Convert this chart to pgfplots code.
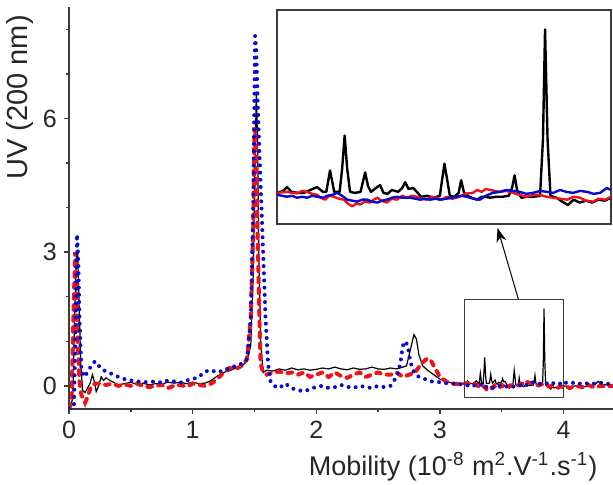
\documentclass[border=0pt]{standalone}
\usepackage{pgfplots}
\pgfplotsset{compat=1.18}
\usepackage{pgfplotstable}
\usetikzlibrary{arrows.meta}
\usepackage{fontspec}
\setmainfont{Liberation Sans}
\definecolor{cred}{RGB}{235,20,25}
\definecolor{cblue}{RGB}{10,10,205}
\definecolor{axgray}{RGB}{60,60,60}

\pgfplotstableread{
x y
0.00 -0.5
0.03 -0.3
0.045 1.5
0.06 2.9
0.07 3.0
0.08 2.0
0.095 0.5
0.11 -0.1
0.13 -0.15
0.15 -0.05
0.17 0.05
0.19 0.25
0.205 0.1
0.22 -0.13
0.24 0.0
0.26 0.2
0.28 0.12
0.30 0.18
0.33 0.12
0.36 0.08
0.40 0.02
0.45 0.05
0.50 0.08
0.55 0.03
0.60 0.06
0.65 0.02
0.70 0.05
0.75 0.04
0.80 0.08
0.85 0.06
0.90 0.08
0.95 0.05
1.00 0.08
1.05 0.05
1.10 0.06
1.15 0.12
1.20 0.22
1.25 0.30
1.30 0.34
1.35 0.40
1.40 0.45
1.44 0.55
1.47 0.9
1.49 2.5
1.505 5.0
1.515 6.6
1.525 5.5
1.535 3.0
1.55 1.0
1.57 0.3
1.60 0.35
1.65 0.33
1.70 0.38
1.75 0.35
1.80 0.40
1.85 0.36
1.90 0.38
1.95 0.35
2.00 0.37
2.05 0.40
2.10 0.38
2.15 0.42
2.20 0.38
2.25 0.36
2.30 0.40
2.35 0.37
2.40 0.38
2.45 0.42
2.50 0.38
2.55 0.37
2.60 0.40
2.65 0.38
2.70 0.42
2.73 0.45
2.76 0.80
2.79 1.15
2.81 1.05
2.83 0.7
2.86 0.45
2.90 0.35
2.95 0.25
3.00 0.15
3.05 0.10
3.10 0.06
3.15 0.05
3.20 0.05
3.215 0.07
3.224 0.11
3.235 0.06
3.25 0.05
3.265 0.05
3.28 0.08
3.296 0.11
3.31 0.06
3.318 0.06
3.327 0.28
3.337 0.06
3.35 0.06
3.356 0.3
3.362 0.64
3.368 0.3
3.375 0.06
3.387 0.05
3.40 0.06
3.405 0.15
3.411 0.26
3.418 0.12
3.425 0.06
3.44 0.11
3.447 0.13
3.455 0.05
3.465 0.04
3.475 0.08
3.49 0.06
3.50 0.1
3.507 0.16
3.515 0.09
3.526 0.10
3.535 0.06
3.545 0.01
3.56 0.02
3.575 0.0
3.59 0.02
3.596 0.2
3.601 0.35
3.607 0.2
3.614 0.02
3.625 0.01
3.635 0.05
3.641 0.18
3.648 0.05
3.66 0.01
3.679 -0.02
3.69 0.01
3.70 0.01
3.71 0.0
3.725 0.01
3.74 0.01
3.755 0.02
3.763 0.1
3.769 0.23
3.775 0.08
3.785 0.0
3.80 0.01
3.815 0.01
3.83 0.02
3.837 0.6
3.842 1.73
3.848 0.6
3.855 0.02
3.87 0.0
3.883 -0.04
3.897 -0.075
3.91 -0.02
3.925 -0.05
3.94 -0.03
3.955 -0.05
3.97 -0.02
3.985 -0.03
4.00 0.0
4.05 -0.02
4.10 0.0
4.15 -0.03
4.20 0.0
4.25 0.02
4.28 0.1
4.31 0.03
4.35 0.02
4.40 0.02
}\blackdata

\pgfplotstableread{
x y
0.00 -0.5
0.02 -0.4
0.035 1.5
0.05 3.0
0.06 2.5
0.07 1.0
0.085 0.1
0.10 -0.2
0.13 -0.38
0.15 -0.25
0.18 0.0
0.21 0.05
0.25 0.05
0.30 0.02
0.35 0.05
0.40 0.0
0.45 0.03
0.50 0.0
0.55 0.05
0.60 0.0
0.65 -0.03
0.70 0.0
0.75 0.02
0.80 -0.05
0.85 0.0
0.90 0.02
0.95 -0.02
1.00 0.05
1.05 0.02
1.10 0.0
1.15 0.05
1.20 0.15
1.25 0.3
1.30 0.4
1.35 0.38
1.40 0.45
1.44 0.6
1.47 1.5
1.49 3.5
1.50 5.8
1.51 5.5
1.525 3.5
1.54 1.5
1.55 0.5
1.57 0.3
1.60 0.25
1.65 0.3
1.70 0.32
1.75 0.28
1.80 0.3
1.85 0.25
1.90 0.3
1.95 0.2
2.00 0.25
2.05 0.3
2.10 0.2
2.15 0.3
2.20 0.22
2.25 0.18
2.30 0.25
2.35 0.3
2.40 0.2
2.45 0.25
2.50 0.3
2.55 0.25
2.60 0.25
2.65 0.3
2.70 0.2
2.75 0.25
2.80 0.3
2.85 0.5
2.90 0.62
2.93 0.55
2.97 0.35
3.00 0.2
3.05 0.1
3.10 0.05
3.15 0.04
3.20 0.05
3.224 0.06
3.236 0.05
3.248 0.045
3.26 0.07
3.272 0.06
3.284 0.04
3.296 0.03
3.305 0.0
3.315 -0.02
3.325 0.02
3.336 0.01
3.348 -0.01
3.36 -0.02
3.37 -0.06
3.38 -0.09
3.39 -0.06
3.399 -0.07
3.41 -0.04
3.423 -0.05
3.432 -0.02
3.44 0.0
3.45 -0.03
3.463 -0.05
3.475 -0.01
3.487 -0.02
3.50 0.02
3.511 0.0
3.523 0.02
3.535 0.01
3.547 -0.01
3.559 -0.02
3.571 0.01
3.583 0.0
3.595 -0.02
3.607 0.01
3.62 -0.01
3.638 0.01
3.65 0.04
3.669 0.05
3.68 0.08
3.69 0.06
3.70 0.09
3.71 0.08
3.722 0.07
3.734 0.06
3.75 0.07
3.765 0.05
3.78 0.03
3.799 0.01
3.815 0.03
3.83 0.03
3.845 0.01
3.861 0.0
3.878 -0.01
3.895 -0.02
3.91 0.01
3.926 0.0
3.94 -0.03
3.957 -0.04
3.97 -0.01
3.986 -0.02
4.00 0.01
4.05 -0.05
4.10 0.0
4.15 -0.03
4.20 0.02
4.25 -0.04
4.30 0.0
4.35 -0.02
4.40 0.0
}\reddata

\pgfplotstableread{
x y
0.00 -0.5
0.04 -0.45
0.055 1.5
0.065 3.4
0.075 2.8
0.085 1.5
0.10 0.4
0.12 0.2
0.15 0.3
0.18 0.45
0.21 0.55
0.24 0.45
0.28 0.35
0.32 0.3
0.36 0.25
0.40 0.2
0.45 0.15
0.50 0.12
0.55 0.1
0.60 0.08
0.65 0.09
0.70 0.1
0.75 0.07
0.80 0.12
0.85 0.1
0.90 0.07
0.95 0.12
1.00 0.15
1.05 0.2
1.10 0.32
1.15 0.35
1.20 0.3
1.25 0.35
1.30 0.4
1.35 0.45
1.40 0.5
1.44 0.6
1.47 1.5
1.49 4.0
1.505 7.85
1.515 7.5
1.53 6.0
1.55 4.5
1.57 3.0
1.59 1.5
1.61 0.5
1.63 0.1
1.66 0.0
1.70 -0.05
1.75 0.05
1.80 -0.05
1.85 -0.1
1.90 -0.12
1.95 -0.08
2.00 -0.02
2.05 0.0
2.10 -0.05
2.15 -0.03
2.20 0.02
2.25 -0.02
2.30 -0.05
2.35 0.0
2.40 -0.03
2.45 -0.05
2.50 0.0
2.55 -0.03
2.60 0.0
2.65 0.2
2.68 0.5
2.70 0.9
2.72 1.0
2.74 0.9
2.76 0.55
2.79 0.3
2.83 0.2
2.88 0.15
2.93 0.1
3.00 0.08
3.05 0.06
3.10 0.05
3.15 0.04
3.20 0.03
3.224 0.01
3.236 0.02
3.248 0.0
3.26 0.01
3.272 0.0
3.284 0.02
3.296 0.01
3.31 0.0
3.32 0.02
3.333 0.03
3.344 0.05
3.356 0.02
3.368 -0.02
3.38 -0.03
3.392 -0.04
3.404 -0.02
3.416 -0.02
3.428 -0.04
3.44 -0.05
3.452 -0.03
3.463 -0.02
3.475 0.0
3.487 0.01
3.50 0.0
3.519 0.0
3.531 -0.01
3.543 -0.02
3.555 -0.01
3.567 -0.02
3.58 -0.01
3.59 -0.02
3.605 -0.01
3.622 0.0
3.64 0.02
3.655 0.01
3.67 -0.01
3.686 -0.02
3.70 0.02
3.717 0.05
3.733 0.06
3.75 0.08
3.766 0.07
3.782 0.06
3.797 0.04
3.813 0.05
3.83 0.07
3.847 0.06
3.862 0.05
3.878 0.08
3.893 0.06
3.909 0.05
3.926 0.07
3.943 0.06
3.958 0.04
3.974 0.05
3.99 0.1
4.00 0.08
4.05 0.05
4.10 0.08
4.15 0.03
4.20 0.06
4.25 0.05
4.30 0.07
4.35 0.04
4.40 0.06
}\bluedata

\begin{document}
\begin{tikzpicture}
\begin{axis}[
  name=main,
  at={(0,0)}, anchor=south west,
  scale only axis,
  width=272pt, height=201pt,
  xmin=0, xmax=4.4, ymin=-0.52, ymax=8.5,
  axis x line=bottom, axis y line=left,
  axis line style={-, axgray, line width=0.75pt},
  every tick/.style={axgray, line width=0.75pt},
  tick align=outside,
  major tick length=2.6pt, minor tick length=1.6pt,
  xtick={0,1,2,3,4}, minor x tick num=1,
  ytick={0,3,6}, minor ytick={1,2,4,5,7,8},
  /pgf/number format/assume math mode=true,
  tick label style={font=\fontsize{12.5}{15}\selectfont, text=black!85},
  label style={text=black!85},
  xlabel={Mobility (10\textsuperscript{-8} m\textsuperscript{2}.V\textsuperscript{-1}.s\textsuperscript{-1})},
  ylabel={UV (200 nm)},
  xlabel style={font=\fontsize{13.5}{16}\selectfont, at={(axis description cs:0.706,-0.144)}, anchor=center},
  ylabel style={font=\fontsize{14.5}{17}\selectfont, at={(axis description cs:-0.09,0.775)}, anchor=center},
  clip=true,
]
\addplot[black, line width=0.6pt] table[x=x,y=y] {\blackdata};
\addplot[cred, line width=2pt, line cap=round, dash pattern=on 2.3pt off 3.2pt] table[x=x,y=y] {\reddata};
\addplot[cblue, line width=2pt, line cap=round, dash pattern=on 0pt off 3.6pt] table[x=x,y=y] {\bluedata};
\draw[axgray, line width=0.6pt] (axis cs:3.2,-0.27) rectangle (axis cs:4.0,1.93);
\draw[black, line width=0.5pt, -{Stealth[length=7pt,width=5pt]}] (axis cs:3.636,1.93) -- (axis cs:3.466,3.54);
\end{axis}
\begin{axis}[
  at={(104pt,92.5pt)}, anchor=south west,
  scale only axis,
  width=167pt, height=107pt,
  xmin=3.2, xmax=4.0, ymin=-0.27, ymax=1.93,
  axis line style={axgray, line width=0.75pt},
  axis background/.style={fill=white},
  xtick=\empty, ytick=\empty,
]
\addplot[black, line width=1.2pt, line join=round] table[x=x,y=y] {\blackdata};
\addplot[cred, line width=1.2pt, line join=round] table[x=x,y=y] {\reddata};
\addplot[cblue, line width=1.2pt, line join=round] table[x=x,y=y] {\bluedata};
\end{axis}
\pgfresetboundingbox
\useasboundingbox (-34.5pt,-38pt) rectangle (272pt,204.5pt);
\end{tikzpicture}
\end{document}
